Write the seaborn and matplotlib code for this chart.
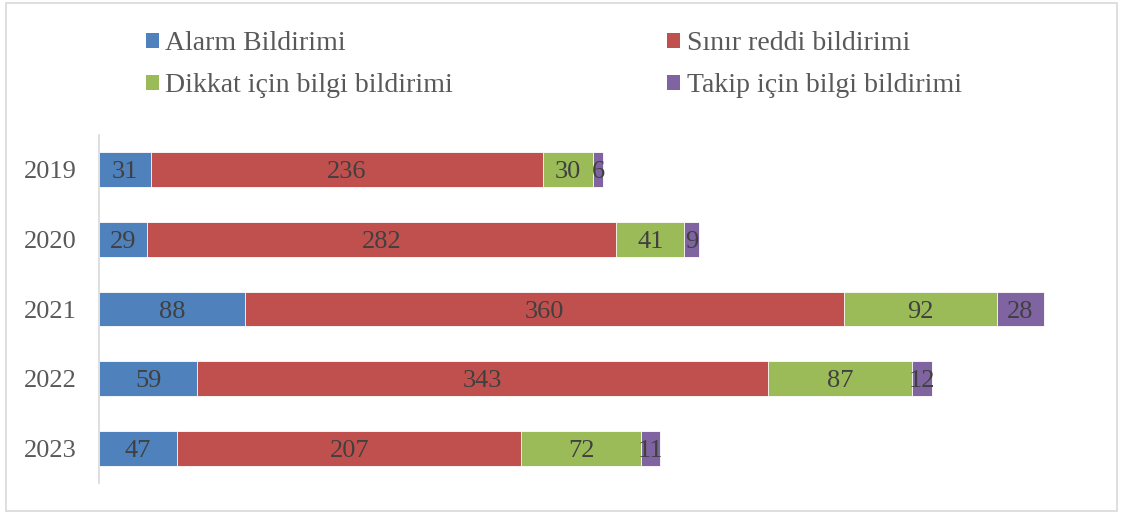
import matplotlib.pyplot as plt
import seaborn as sns
import pandas as pd
from matplotlib.patches import Patch, Rectangle

years = ['2019', '2020', '2021', '2022', '2023']
alarm = [31, 29, 88, 59, 47]
sinir = [236, 282, 360, 343, 207]
dikkat = [30, 41, 92, 87, 72]
takip = [6, 9, 28, 12, 11]

series_names = ['Alarm Bildirimi', 'Sınır reddi bildirimi',
                'Dikkat için bilgi bildirimi', 'Takip için bilgi bildirimi']
colors = ['#4F81BD', '#C0504D', '#9BBB59', '#8064A2']

sns.set_style('white')
plt.rcParams['font.family'] = ['Liberation Serif', 'DejaVu Serif']

df = pd.DataFrame({'year': years, 'alarm': alarm, 'sinir': sinir,
                   'dikkat': dikkat, 'takip': takip})
cols = ['alarm', 'sinir', 'dikkat', 'takip']
cum = df[cols].cumsum(axis=1)
for c in cols:
    df['cum_' + c] = cum[c]

fig = plt.figure(figsize=(11.23, 5.13), dpi=100)
ax = fig.add_axes([99 / 1123, 30 / 513, 998 / 1123, 348 / 513])

# stacked bars: draw cumulative totals from largest to smallest
for c, color in reversed(list(zip(cols, colors))):
    sns.barplot(data=df, x='cum_' + c, y='year', orient='h', color=color,
                saturation=1, width=0.5, edgecolor='white', linewidth=0.6, ax=ax)

# segment labels
for c in cols:
    for j, yr in enumerate(years):
        val = df.loc[j, c]
        center = df.loc[j, 'cum_' + c] - val / 2
        ax.text(center, j, str(val), ha='center', va='center_baseline',
                fontsize=19, color='#404040')

ax.set_xlim(0, 600)
ax.set_ylim(4.5, -0.5)
ax.set_xlabel('')
ax.set_ylabel('')
ax.set_xticks([])
ax.tick_params(axis='y', length=0, pad=16, labelsize=19, labelcolor='#595959')
for s in ['top', 'right', 'bottom']:
    ax.spines[s].set_visible(False)
ax.spines['left'].set_color('#D9D9D9')
ax.spines['left'].set_linewidth(1.2)

# legend in row-major order across two columns
handles = [Patch(facecolor=colors[i], edgecolor='none', label=series_names[i]) for i in [0, 2, 1, 3]]
leg = fig.legend(handles=handles, ncol=2, loc='upper left',
                 bbox_to_anchor=(146 / 1123, 1 - 31 / 513), frameon=False,
                 fontsize=20, handlelength=0.45, handleheight=0.45,
                 handletextpad=0.25, columnspacing=7.7, labelspacing=0.62,
                 borderpad=0, borderaxespad=0)
for t in leg.get_texts():
    t.set_color('#595959')

# chart border
fig.patches.append(Rectangle((6 / 1123, 2 / 513), 1111 / 1123, 508 / 513,
                             transform=fig.transFigure, fill=False,
                             edgecolor='#D9D9D9', linewidth=1.2))

fig.savefig('out.png', dpi=100)
